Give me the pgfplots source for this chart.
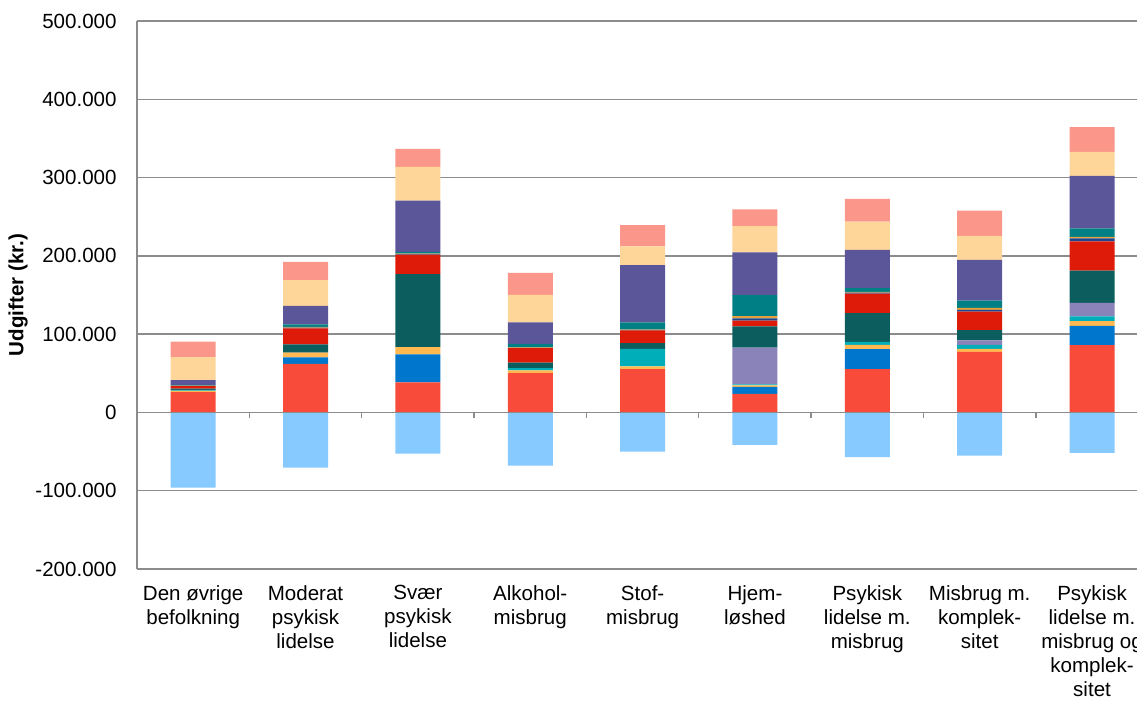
\documentclass[border=0pt]{standalone}
\usepackage{pgfplots}
\pgfplotsset{compat=1.18}
\usepackage{pgfplotstable}
\usepackage{fontspec}
\setmainfont{Liberation Sans}

\definecolor{cro}{RGB}{248,75,58}
\definecolor{cblue}{RGB}{0,119,204}
\definecolor{cyellow}{RGB}{255,185,80}
\definecolor{ccyan}{RGB}{0,174,185}
\definecolor{clpurple}{RGB}{137,131,186}
\definecolor{cdteal}{RGB}{12,94,94}
\definecolor{cred}{RGB}{222,27,8}
\definecolor{cnavy}{RGB}{30,70,140}
\definecolor{corange}{RGB}{230,160,60}
\definecolor{cteal}{RGB}{0,128,133}
\definecolor{cpurple}{RGB}{91,86,153}
\definecolor{cpeach}{RGB}{254,214,153}
\definecolor{csalmon}{RGB}{251,150,138}
\definecolor{clblue}{RGB}{135,202,255}
\definecolor{gridgray}{RGB}{140,140,140}

% udgifter pr. person, kr. (negativ = indtaegter)
\pgfplotstableread{
x ro    blue  yellow cyan  lpurple dteal red   navy orange teal  purple peach salmon neg
0 26000 0     1700   600   500     1700  3000  500  300    1000  6000   29400 19600  -96000
1 61900 8500  6000   0     0       10600 20400 1000 1000   3000  23800  32800 23400  -70500
2 38300 35800 9400   0     0       93200 25000 500  500    2400  65500  43000 23000  -52700
3 50300 0     3400   2900  0       6900  18600 500  400    4700  27200  35400 28100  -68100
4 55400 0     3300   22600 0       7300  16100 500  500    9400  73200  23900 27200  -50200
5 23600 8900  2200   1300  46700   27300 7200  3000 2900   26800 54500  33600 21300  -41500
6 55400 25500 5500   3800  0       36600 25000 1200 1000   4700  48900  36100 29000  -57000
7 77300 0     3800   5100  6000    12800 23800 2200 2500   9300  52000  30600 32300  -55200
8 86100 24600 6000   5900  17500   40900 37400 3800 2200   10600 67300  30600 31500  -51800
}\udgifter

\begin{document}
\fontsize{15.4}{18}\selectfont
\begin{tikzpicture}
\pgfplotsset{
  base/.style={
    width=750pt, height=411pt, scale only axis,
    at={(0,0)}, anchor=south west,
    xmin=-0.5, xmax=8.4,
    ymin=-200000, ymax=500000,
    bar width=33.75pt,
    scaled y ticks=false,
  },
}

\begin{axis}[
    base,
    ybar stacked,
    axis lines*=left,
    x axis line style={draw=none},
    y axis line style={gridgray, line width=1pt},
    ymajorgrids,
    grid style={gridgray, line width=1pt},
    ytick={-200000,-100000,0,100000,200000,300000,400000,500000},
    yticklabels={-200.000,-100.000,0,100.000,200.000,300.000,400.000,500.000},
    major tick length=0pt,
    yticklabel style={font=\fontsize{15.4}{18}\selectfont, xshift=-10pt},
    xtick={0,1,2,3,4,5,6,7,8},
    xticklabels={Den øvrige\\befolkning, Moderat\\psykisk\\lidelse, Svær\\psykisk\\lidelse,
      Alkohol-\\misbrug, Stof-\\misbrug, Hjem-\\løshed, Psykisk\\lidelse m.\\misbrug,
      Misbrug m.\\komplek-\\sitet, Psykisk\\lidelse m.\\misbrug og\\komplek-\\sitet},
    xticklabel style={font=\fontsize{15.4}{18}\selectfont, align=center, yshift=-7pt},
    ylabel={Udgifter (kr.)},
    ylabel style={font=\bfseries\fontsize{15.4}{18}\selectfont,
      at={(axis description cs:-0.119,0.5)}, anchor=center},
]
\addplot[fill=cro, draw=none] table[x=x, y=ro] {\udgifter};
\addplot[fill=cblue, draw=none] table[x=x, y=blue] {\udgifter};
\addplot[fill=cyellow, draw=none] table[x=x, y=yellow] {\udgifter};
\addplot[fill=ccyan, draw=none] table[x=x, y=cyan] {\udgifter};
\addplot[fill=clpurple, draw=none] table[x=x, y=lpurple] {\udgifter};
\addplot[fill=cdteal, draw=none] table[x=x, y=dteal] {\udgifter};
\addplot[fill=cred, draw=none] table[x=x, y=red] {\udgifter};
\addplot[fill=cnavy, draw=none] table[x=x, y=navy] {\udgifter};
\addplot[fill=corange, draw=none] table[x=x, y=orange] {\udgifter};
\addplot[fill=cteal, draw=none] table[x=x, y=teal] {\udgifter};
\addplot[fill=cpurple, draw=none] table[x=x, y=purple] {\udgifter};
\addplot[fill=cpeach, draw=none] table[x=x, y=peach] {\udgifter};
\addplot[fill=csalmon, draw=none] table[x=x, y=salmon] {\udgifter};
\end{axis}

\begin{axis}[base, ybar, hide axis]
\addplot[fill=clblue, draw=none] table[x=x, y=neg] {\udgifter};
\draw[gridgray, line width=1pt] (axis cs:-0.5,0) -- (axis cs:8.4,0);
\pgfplotsinvokeforeach{0.5,1.5,2.5,3.5,4.5,5.5,6.5,7.5}{
  \draw[gridgray, line width=1pt] (axis cs:#1,0) -- ([yshift=-4.5pt]axis cs:#1,0);
}
\end{axis}

\pgfresetboundingbox
\path[use as bounding box] (-102.75pt,-99pt) rectangle (750pt,426.75pt);
\end{tikzpicture}
\end{document}
